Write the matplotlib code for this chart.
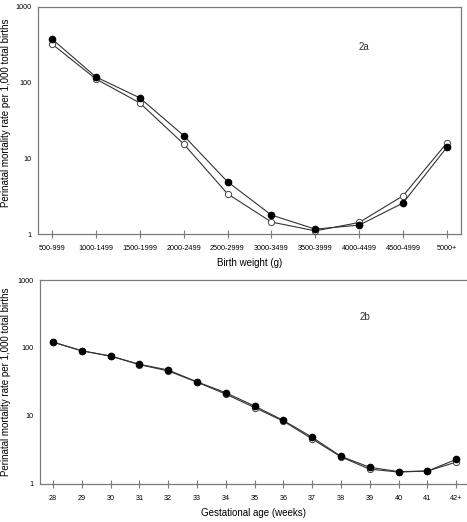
import numpy as np
import matplotlib.pyplot as plt

plt.rcParams['font.family'] = ['Liberation Sans', 'DejaVu Sans']

# 2a: birth weight groups
bw_labels = ['500-999', '1000-1499', '1500-1999', '2000-2499', '2500-2999',
             '3000-3499', '3500-3999', '4000-4499', '4500-4999', '5000+']
bw_filled = [377, 119, 63, 20, 4.9, 1.78, 1.16, 1.31, 2.57, 14]
bw_open = [324, 112, 54, 15.5, 3.4, 1.44, 1.1, 1.42, 3.2, 16]

# 2b: gestational age
ga_labels = ['28', '29', '30', '31', '32', '33', '34', '35', '36', '37',
             '38', '39', '40', '41', '42+']
ga_filled = [122, 91, 76, 57.6, 47.5, 31.8, 22, 14, 8.6, 4.86,
             2.55, 1.76, 1.52, 1.55, 2.3]
ga_open = [122, 91, 76, 57, 46, 31.5, 21, 13.3, 8.4, 4.6,
           2.5, 1.65, 1.5, 1.55, 2.1]

YLABEL = 'Perinatal mortality rate per 1,000 total births'
SPINE = '#7a7a7a'
LINE = '#333333'


def draw_panel(ax, labels, filled, opn, xlab, tag, xlim, tag_xy, ylab_xy):
    x = np.arange(len(labels))
    ax.plot(x, opn, '-', color=LINE, lw=0.8, marker='o', ms=4.5,
            mfc='white', mec='#444444', mew=0.7, zorder=3)
    ax.plot(x, filled, '-', color=LINE, lw=0.8, marker='o', ms=4.5,
            mfc='black', mec='black', zorder=4)
    ax.set_yscale('log')
    ax.set_ylim(1, 1000)
    ax.set_xlim(*xlim)
    ax.set_yticks([1, 10, 100, 1000])
    ax.set_yticklabels(['1', '10', '100', '1000'])
    ax.minorticks_off()
    ax.set_xticks(x)
    ax.set_xticklabels(labels)
    ax.tick_params(axis='x', direction='inout', length=6, width=0.8,
                   color=SPINE, labelsize=5.2, pad=5)
    ax.tick_params(axis='y', length=0, labelsize=5.2, pad=5)
    for s in ax.spines.values():
        s.set_color(SPINE)
        s.set_linewidth(0.9)
    ax.set_xlabel(xlab, fontsize=7, labelpad=4)
    ax.set_ylabel(YLABEL, fontsize=7)
    ax.yaxis.set_label_coords(*ylab_xy)
    ax.text(tag_xy[0], tag_xy[1], tag, transform=ax.transAxes,
            fontsize=7, ha='center', va='center', color='#333333')


fig = plt.figure(figsize=(4.67, 5.22), dpi=100)

ax1 = fig.add_axes([0.0814, 0.5517, 0.9056, 0.4349])
draw_panel(ax1, bw_labels, bw_filled, bw_open, 'Birth weight (g)', '2a',
           (-0.32, 9.32), (0.77, 0.825), (-0.064, 0.535))

ax2 = fig.add_axes([0.0857, 0.0728, 0.9143, 0.3908])
draw_panel(ax2, ga_labels, ga_filled, ga_open, 'Gestational age (weeks)', '2b',
           (-0.45, 14.375), (0.76, 0.82), (-0.069, 0.5))
ax2.spines['right'].set_visible(False)

fig.savefig('out.png', dpi=100)
